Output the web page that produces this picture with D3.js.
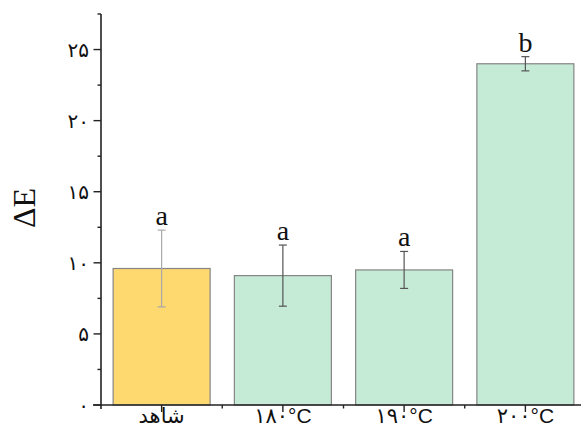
<!DOCTYPE html>
<html>
<head>
<meta charset="utf-8">
<script src="https://cdn.jsdelivr.net/npm/d3@7"></script>
<style>
  html, body { margin: 0; padding: 0; background: #fff; }
  svg { display: block; }
</style>
</head>
<body>
<svg id="chart" width="581" height="430"></svg>
<script>
// Colour difference (ΔE) per treatment
const categories = ["شاهد", "۱۸۰°C", "۱۹۰°C", "۲۰۰°C"];
const values = [9.6, 9.1, 9.5, 24.0];
const errors = [2.7, 2.15, 1.3, 0.5];
const groups = ["a", "a", "a", "b"];
const barColors = ["#FDD96F", "#C5EBD6", "#C5EBD6", "#C5EBD6"];
const errColors = ["#a8a8a8", "#555555", "#555555", "#555555"];
const yTicks = [0, 5, 10, 15, 20, 25];
const yTickLabels = ["۰", "۵", "۱۰", "۱۵", "۲۰", "۲۵"];

const svg = d3.select("#chart");
const plot = { left: 101, right: 586, top: 14, bottom: 405 };

const x = d3.scaleBand().domain(categories).range([plot.left, plot.right])
  .paddingInner(0.2).paddingOuter(0.1);
const y = d3.scaleLinear().domain([0, 27.5]).range([plot.bottom, plot.top]);

// bars
svg.append("g").selectAll("rect").data(categories).join("rect")
  .attr("x", d => x(d))
  .attr("y", (d, i) => y(values[i]))
  .attr("width", x.bandwidth())
  .attr("height", (d, i) => y(0) - y(values[i]))
  .attr("fill", (d, i) => barColors[i])
  .attr("stroke", "#858585")
  .attr("stroke-width", 1.2);

// error bars
const eb = svg.append("g").selectAll("g").data(categories).join("g")
  .attr("stroke", (d, i) => errColors[i])
  .attr("stroke-width", 1.2);
const cx = d => x(d) + x.bandwidth() / 2;
eb.append("line")
  .attr("x1", cx).attr("x2", cx)
  .attr("y1", (d, i) => y(values[i] + errors[i]))
  .attr("y2", (d, i) => y(values[i] - errors[i]));
eb.append("line")
  .attr("x1", d => cx(d) - 4).attr("x2", d => cx(d) + 4)
  .attr("y1", (d, i) => y(values[i] + errors[i]))
  .attr("y2", (d, i) => y(values[i] + errors[i]));
eb.append("line")
  .attr("x1", d => cx(d) - 4).attr("x2", d => cx(d) + 4)
  .attr("y1", (d, i) => y(values[i] - errors[i]))
  .attr("y2", (d, i) => y(values[i] - errors[i]));

// significance letters
svg.append("g").selectAll("text").data(categories).join("text")
  .attr("x", cx)
  .attr("y", (d, i) => y(values[i] + errors[i]) - 5)
  .attr("text-anchor", "middle")
  .attr("font-family", "'Liberation Serif', 'Times New Roman', serif")
  .attr("font-size", 28)
  .attr("fill", "#111")
  .text((d, i) => groups[i]);

// y axis
const yAxis = svg.append("g");
yAxis.append("line")
  .attr("x1", plot.left).attr("x2", plot.left)
  .attr("y1", plot.top).attr("y2", plot.bottom + 4)
  .attr("stroke", "#222").attr("stroke-width", 1.6);
const minorY = d3.range(0, 27.6, 2.5).filter(v => !yTicks.includes(v));
yAxis.selectAll("line.minor").data(minorY).join("line").attr("class", "minor")
  .attr("x1", plot.left - 3.5).attr("x2", plot.left)
  .attr("y1", d => y(d)).attr("y2", d => y(d))
  .attr("stroke", "#222").attr("stroke-width", 1.4);
yAxis.selectAll("line.major").data(yTicks).join("line").attr("class", "major")
  .attr("x1", plot.left - 7.5).attr("x2", plot.left)
  .attr("y1", d => y(d)).attr("y2", d => y(d))
  .attr("stroke", "#222").attr("stroke-width", 1.4);
yAxis.selectAll("text").data(yTicks).join("text")
  .attr("x", plot.left - 12)
  .attr("y", d => y(d))
  .attr("dy", "0.35em")
  .attr("text-anchor", "end")
  .attr("font-family", "'DejaVu Sans', serif")
  .attr("font-size", 20)
  .attr("fill", "#111")
  .text((d, i) => yTickLabels[i]);

// x axis
const xAxis = svg.append("g");
xAxis.append("line")
  .attr("x1", plot.left - 8).attr("x2", 581)
  .attr("y1", plot.bottom).attr("y2", plot.bottom)
  .attr("stroke", "#222").attr("stroke-width", 1.6);
const halfGap = x.step() * x.paddingInner() / 2;
const bounds = categories.slice(1).map(d => x(d) - halfGap)
  .concat([x(categories[categories.length - 1]) + x.bandwidth() + halfGap]);
xAxis.selectAll("line.minor").data(bounds).join("line").attr("class", "minor")
  .attr("x1", d => d).attr("x2", d => d)
  .attr("y1", plot.bottom).attr("y2", plot.bottom + 3.5)
  .attr("stroke", "#222").attr("stroke-width", 1.4);
xAxis.selectAll("line.major").data(categories).join("line").attr("class", "major")
  .attr("x1", cx).attr("x2", cx)
  .attr("y1", plot.bottom).attr("y2", plot.bottom + 7)
  .attr("stroke", "#222").attr("stroke-width", 1.4);
xAxis.selectAll("text").data(categories).join("text")
  .attr("x", cx)
  .attr("y", plot.bottom + 18)
  .attr("text-anchor", "middle")
  .attr("font-family", "'Liberation Sans', 'DejaVu Sans', sans-serif")
  .attr("font-size", 21)
  .attr("fill", "#111")
  .text(d => d);

// y axis title
svg.append("text")
  .attr("transform", "translate(35, 208) rotate(-90)")
  .attr("text-anchor", "middle")
  .attr("font-family", "'Liberation Serif', 'Times New Roman', serif")
  .attr("font-size", 32)
  .attr("fill", "#111")
  .text("ΔE");
</script>
</body>
</html>
